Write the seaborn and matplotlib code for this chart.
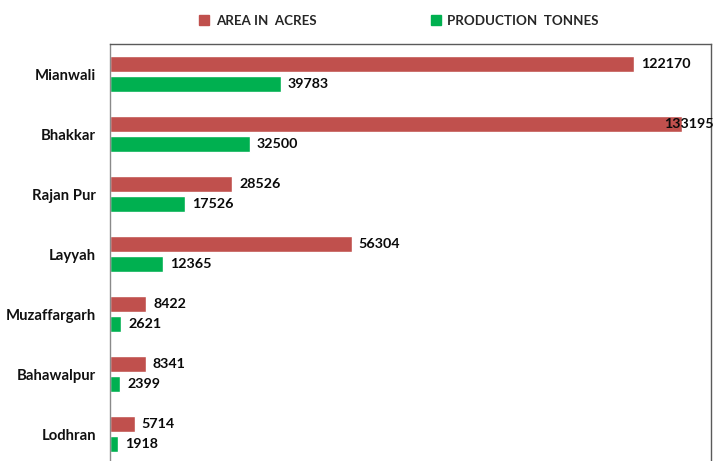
import matplotlib
matplotlib.use("Agg")
import matplotlib.pyplot as plt
from matplotlib.lines import Line2D
import seaborn as sns
import pandas as pd

# District-wise figures
districts = ["Mianwali", "Bhakkar", "Rajan Pur", "Layyah", "Muzaffargarh", "Bahawalpur", "Lodhran"]
area_acres = [122170, 133195, 28526, 56304, 8422, 8341, 5714]
production_tonnes = [39783, 32500, 17526, 12365, 2621, 2399, 1918]
series_names = ["AREA IN  ACRES", "PRODUCTION  TONNES"]
series_colors = ["#C0504D", "#00B050"]
x_max = 140000

sns.set_theme(style="white")
plt.rcParams["font.family"] = ["Lato", "DejaVu Sans"]

df = pd.DataFrame({
    "District": districts * 2,
    "Value": area_acres + production_tonnes,
    "Series": [series_names[0]] * len(districts) + [series_names[1]] * len(districts),
})

fig = plt.figure(figsize=(7.14, 4.61), dpi=100)
ax = fig.add_axes([110 / 714, (461 - 464) / 461, 601 / 714, 420 / 461])

sns.barplot(
    data=df, y="District", x="Value", hue="Series", hue_order=series_names,
    palette=series_colors, orient="h", width=2 / 3, gap=0.2,
    saturation=1, legend=False, ax=ax,
)

ax.set_xlim(0, x_max)
ax.set_xlabel("")
ax.set_ylabel("")
ax.set_xticks([])
ax.tick_params(axis="y", length=0, pad=10)
for lbl in ax.get_yticklabels():
    lbl.set_fontweight("bold")
    lbl.set_fontsize(10.7)
    lbl.set_color("#111111")

for side in ["top", "right", "left", "bottom"]:
    ax.spines[side].set_visible(True)
    ax.spines[side].set_color("#5a5a5a")
    ax.spines[side].set_linewidth(1.0)
ax.spines["left"].set_color("#8a8a8a")

# Value labels at the end of each bar
label_size = 10.3
for cont, vals in zip(ax.containers, [area_acres, production_tonnes]):
    for bar, v in zip(cont, vals):
        yc = bar.get_y() + bar.get_height() / 2
        if v > 0.93 * x_max:
            ax.annotate(f"{v}", xy=(1.0, yc), xycoords=("figure fraction", "data"),
                        ha="right", va="center", fontsize=label_size, fontweight="bold",
                        color="#0a0a0a", annotation_clip=False)
        else:
            ax.annotate(f"{v}", xy=(v, yc), xytext=(5, 0), textcoords="offset points",
                        ha="left", va="center", fontsize=label_size, fontweight="bold",
                        color="#0a0a0a", annotation_clip=False)

handles = [Line2D([], [], marker="s", linestyle="none", markersize=6.5,
                  markerfacecolor=c, markeredgecolor=c) for c in series_colors]
fig.legend(handles, series_names, loc="center", bbox_to_anchor=(399 / 714, 1 - 21 / 461),
           ncol=2, frameon=False, handlelength=0.7, handletextpad=0.5,
           columnspacing=8.6, prop={"size": 9.6, "weight": "bold"})

fig.savefig("out.png", dpi=100)
